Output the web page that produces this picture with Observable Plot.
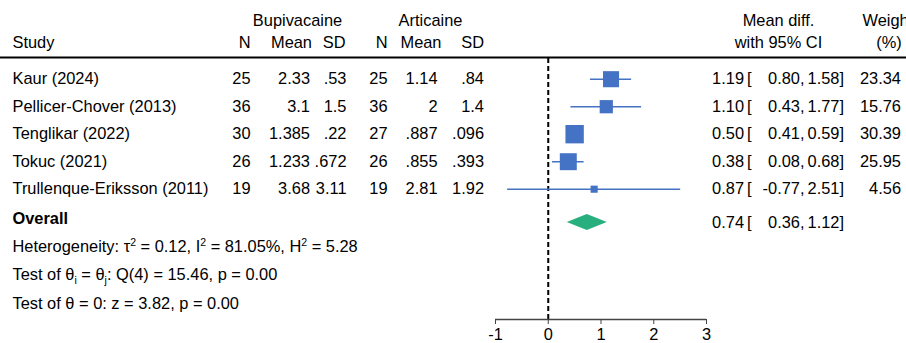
<!DOCTYPE html>
<html><head><meta charset="utf-8">
<script src="https://cdn.jsdelivr.net/npm/d3@7"></script>
<script src="https://cdn.jsdelivr.net/npm/@observablehq/plot@0.6"></script>
<style>
html,body{margin:0;padding:0;background:#fff;overflow:hidden}
</style></head><body><div id="chart"></div>
<script>
// ---- data ----
const studies = ["Kaur (2024)", "Pellicer-Chover (2013)", "Tenglikar (2022)", "Tokuc (2021)", "Trullenque-Eriksson (2011)"];
const n1 = [25, 36, 30, 26, 19];
const mean1 = [2.33, 3.1, 1.385, 1.233, 3.68];
const sd1 = [0.53, 1.5, 0.22, 0.672, 3.11];
const n2 = [25, 36, 27, 26, 19];
const mean2 = [1.14, 2, 0.887, 0.855, 2.81];
const sd2 = [0.84, 1.4, 0.096, 0.393, 1.92];
const md = [1.19, 1.10, 0.50, 0.38, 0.87];
const lo = [0.80, 0.43, 0.41, 0.08, -0.77];
const hi = [1.58, 1.77, 0.59, 0.68, 2.51];
const weight = [23.34, 15.76, 30.39, 25.95, 4.56];
const overallLabel = "Overall";
const overallMd = 0.74, overallLo = 0.36, overallHi = 1.12;
const tau2 = 0.12, I2 = 81.05, H2 = 5.28, Qstat = 15.46, Qdf = 4, pQ = 0.00, zstat = 3.82, pz = 0.00;
const xTicks = [-1, 0, 1, 2, 3];
const groupLabels = ["Bupivacaine", "Articaine"];
const colLabels = ["Study", "N", "Mean", "SD", "N", "Mean", "SD"];
const effLabels = ["Mean diff.", "with 95% CI"];
const weightLabels = ["Weight", "(%)"];

// ---- layout (row units, styles) ----
const font = "'Liberation Sans', Arial, sans-serif";
const fs = 16.4;
const blue = "#4472c4", green = "#27b07e";
const head1 = -1.135, head2 = -0.335, ruleRow = 0.211, dashTop = 0.25;
const overallRow = 6.211, statRows = [7.09, 8.12, 9.15], axisRow = 9.738;
const diamondHalf = 0.29;

const fmt2 = v => d3.format(".2f")(v).replace("\u2212", "-");
const stata = v => String(v).replace(/^0\./, ".").replace(/^-0\./, "-.");

const rows = studies.map((s, i) => ({
  study: s, row: i + 1, n1: n1[i], mean1: mean1[i], sd1: sd1[i], n2: n2[i], mean2: mean2[i], sd2: sd2[i],
  md: md[i], lo: lo[i], hi: hi[i], weight: weight[i]
}));
const overall = [{row: overallRow, md: overallMd, lo: overallLo, hi: overallHi}];
const estRows = rows.concat(overall);
const diamond = [
  {x: overallLo, y1: overallRow, y2: overallRow},
  {x: overallMd, y1: overallRow - diamondHalf, y2: overallRow + diamondHalf},
  {x: overallHi, y1: overallRow, y2: overallRow}
];
const stats = [
  `Heterogeneity: τ^2 = ${fmt2(tau2)}, I^2 = ${fmt2(I2)}%, H^2 = ${fmt2(H2)}`,
  `Test of θ_i = θ_j: Q(${Qdf}) = ${fmt2(Qstat)}, p = ${fmt2(pQ)}`,
  `Test of θ = 0: z = ${fmt2(zstat)}, p = ${fmt2(pz)}`
];

const T = {fontSize: fs, fill: "#000", frameAnchor: "left"};
const col = (data, text, dx, anchor, extra = {}) => Plot.text(data, {...T, y: "row", text, dx, textAnchor: anchor, ...extra});
const label = (txt, yv, dx, anchor, extra = {}) => Plot.text([txt], {...T, text: d => d, y: [yv], dx, textAnchor: anchor, ...extra});

const chart = Plot.plot({
  width: 906, height: 343,
  marginTop: 0, marginLeft: 0, marginRight: 0, marginBottom: 24,
  style: {fontFamily: font, fontSize: fs + "px", color: "#000", background: "#fff", overflow: "hidden"},
  x: {domain: [-1, 3], range: [495, 706], axis: null},
  y: {domain: [1, 5], range: [78.7, 188.7], axis: null},
  r: {type: "sqrt", domain: [0, d3.max(weight)], range: [0, 10.36]},
  marks: [
    // header
    label(groupLabels[0], head1, 297, "middle"),
    label(groupLabels[1], head1, 430, "middle"),
    label(effLabels[0], head1, 778, "middle"),
    label(weightLabels[0], head1, 862, "start"),
    label(colLabels[0], head2, 12, "start"),
    label(colLabels[1], head2, 250, "end"),
    label(colLabels[2], head2, 311.5, "end"),
    label(colLabels[3], head2, 345, "end"),
    label(colLabels[4], head2, 387, "end"),
    label(colLabels[5], head2, 441, "end"),
    label(colLabels[6], head2, 483.5, "end"),
    label(effLabels[1], head2, 778, "middle"),
    label(weightLabels[1], head2, 888.5, "middle"),
    Plot.ruleY([ruleRow], {stroke: "#000", strokeWidth: 2.2}),
    // table
    col(rows, "study", 12, "start"),
    col(rows, d => stata(d.n1), 250, "end"),
    col(rows, d => stata(d.mean1), 309.5, "end"),
    col(rows, d => stata(d.sd1), 346, "end"),
    col(rows, d => stata(d.n2), 387, "end"),
    col(rows, d => stata(d.mean2), 437, "end"),
    col(rows, d => stata(d.sd2), 483.5, "end"),
    label(overallLabel, overallRow, 12, "start", {fontWeight: "bold", dy: -4}),
    Plot.text(stats, {...T, text: d => d, y: statRows, dx: 12, textAnchor: "start"}),
    // effect estimates text
    col(estRows, d => fmt2(d.md), 743.5, "end"),
    col(estRows, () => "[", 746.5, "start"),
    col(estRows, d => fmt2(d.lo) + ",", 804, "end"),
    col(estRows, d => fmt2(d.hi) + "]", 843.5, "end"),
    col(rows, d => fmt2(d.weight), 900.5, "end"),
    // plot
    Plot.ruleX([0], {y1: dashTop, y2: axisRow, stroke: "#000", strokeWidth: 2, strokeDasharray: "5,3"}),
    Plot.ruleY(rows, {y: "row", x1: "lo", x2: "hi", stroke: blue, strokeWidth: 1.6}),
    Plot.dot(rows, {x: "md", y: "row", r: "weight", symbol: "square", fill: blue, stroke: null}),
    Plot.areaY(diamond, {x: "x", y1: "y1", y2: "y2", fill: green, curve: "linear"}),
    Plot.ruleY([axisRow], {x1: d3.min(xTicks), x2: d3.max(xTicks), stroke: "#444", strokeWidth: 1.3}),
    Plot.axisX(xTicks, {anchor: "bottom", tickSize: 5, tickPadding: 4, tickFormat: d => String(d), fontSize: fs, stroke: "#444", fill: "#000"})
  ]
});

// superscripts / subscripts in the stats lines
d3.select(chart).selectAll("text")
  .filter(function () { return /[\^_]\w/.test(this.textContent) && this.childElementCount === 0; })
  .each(function () {
    const s = this.textContent;
    const el = d3.select(this);
    el.text(null);
    const re = /([\^_])(\w)/g;
    let last = 0, m, shift = 0;
    while ((m = re.exec(s))) {
      if (m.index > last) {
        el.append("tspan").attr("dy", -shift).text(s.slice(last, m.index));
        shift = 0;
      }
      const sh = m[1] === "^" ? -6 : 4;
      el.append("tspan").attr("dy", sh - shift).attr("font-size", 10.5).text(m[2]);
      shift = sh;
      last = m.index + m[0].length;
    }
    el.append("tspan").attr("dy", -shift).text(s.slice(last));
  });

document.getElementById("chart").appendChild(chart);
</script>
</body></html>
